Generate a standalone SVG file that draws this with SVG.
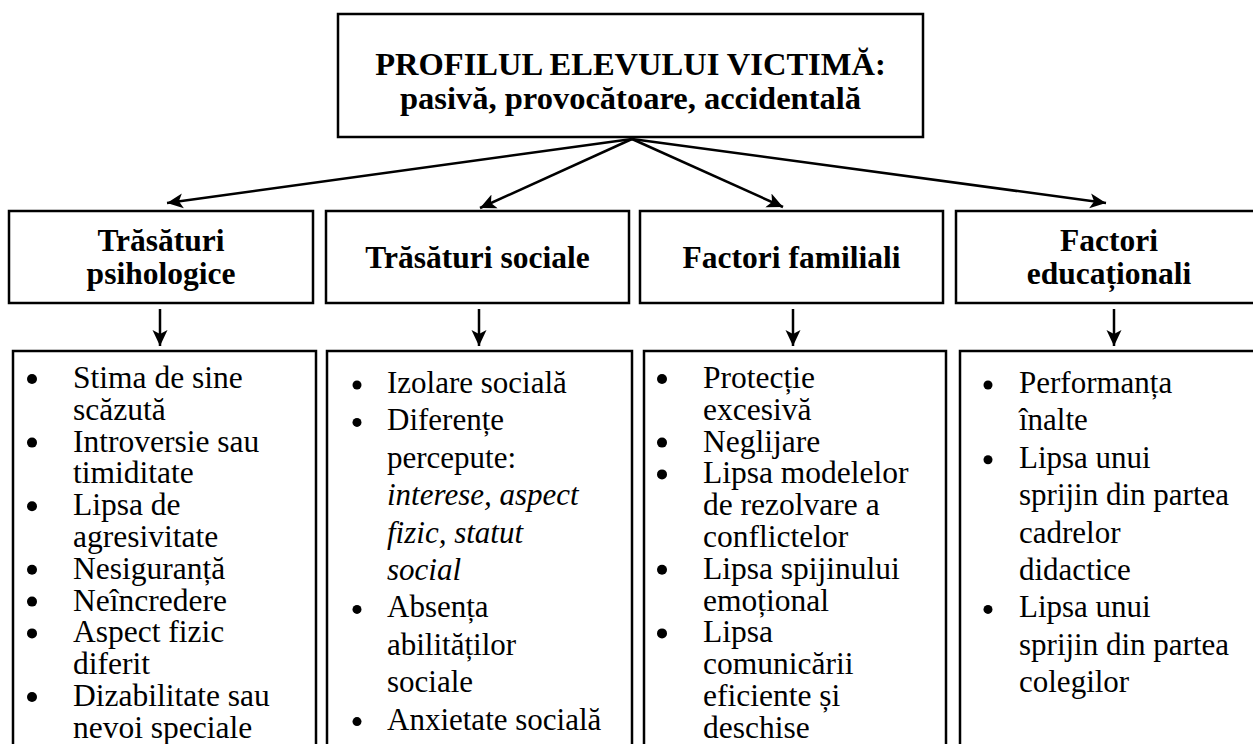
<svg xmlns="http://www.w3.org/2000/svg" width="1253" height="744" viewBox="0 0 1253 744">
<defs>
<style>
.box{fill:#fff;stroke:#000;stroke-width:2.5}
.title{font-family:"Liberation Serif","Times New Roman",serif;font-weight:bold;font-size:32.5px;fill:#000;text-anchor:middle}
.hd{font-family:"Liberation Serif","Times New Roman",serif;font-weight:bold;font-size:31.5px;fill:#000;text-anchor:middle}
.t1{font-family:"Liberation Serif","Times New Roman",serif;font-size:31.5px;fill:#000}
.t2{font-family:"Liberation Serif","Times New Roman",serif;font-size:31px;fill:#000}
.it{font-style:italic}
.conn{stroke:#000;stroke-width:2.5;fill:none}
.bul{fill:#000}
</style>
<marker id="ah" markerUnits="userSpaceOnUse" markerWidth="18" markerHeight="16" refX="16" refY="8" orient="auto">
<path d="M0,0.5 L16,8 L0,15.5 L4,8 z" fill="#000"/>
</marker>
</defs>

<g id="top">
<rect class="box" x="338" y="14" width="585" height="123"/>
<text class="title" x="630.5" y="75">PROFILUL ELEVULUI VICTIMĂ:</text>
<text class="title" x="630.5" y="109">pasivă, provocătoare, accidentală</text>
</g>

<g id="h-psihologice">
<rect class="box" x="9" y="211" width="304" height="92"/>
<text class="hd" x="161" y="251">Trăsături</text>
<text class="hd" x="161" y="284">psihologice</text>
</g>
<g id="h-sociale">
<rect class="box" x="326" y="211" width="303" height="92"/>
<text class="hd" x="477.5" y="268">Trăsături sociale</text>
</g>
<g id="h-familiali">
<rect class="box" x="640" y="211" width="303" height="92"/>
<text class="hd" x="791.5" y="268">Factori familiali</text>
</g>
<g id="h-educationali">
<rect class="box" x="956" y="211" width="310" height="92"/>
<text class="hd" x="1109" y="251">Factori</text>
<text class="hd" x="1109" y="284">educaționali</text>
</g>

<g id="list-psihologice">
<rect class="box" x="13" y="351" width="303" height="420"/>
<circle class="bul" cx="32" cy="379" r="5"/>
<circle class="bul" cx="32" cy="442.6" r="5"/>
<circle class="bul" cx="32" cy="506.2" r="5"/>
<circle class="bul" cx="32" cy="569.8" r="5"/>
<circle class="bul" cx="32" cy="601.6" r="5"/>
<circle class="bul" cx="32" cy="633.4" r="5"/>
<circle class="bul" cx="32" cy="697" r="5"/>
<text class="t1" x="73" y="388">Stima de sine</text>
<text class="t1" x="73" y="419.8">scăzută</text>
<text class="t1" x="73" y="451.6">Introversie sau</text>
<text class="t1" x="73" y="483.4">timiditate</text>
<text class="t1" x="73" y="515.2">Lipsa de</text>
<text class="t1" x="73" y="547">agresivitate</text>
<text class="t1" x="73" y="578.8">Nesiguranță</text>
<text class="t1" x="73" y="610.6">Neîncredere</text>
<text class="t1" x="73" y="642.4">Aspect fizic</text>
<text class="t1" x="73" y="674.2">diferit</text>
<text class="t1" x="73" y="706">Dizabilitate sau</text>
<text class="t1" x="73" y="737.8">nevoi speciale</text>
</g>

<g id="list-sociale">
<rect class="box" x="327" y="351" width="305" height="420"/>
<circle class="bul" cx="357" cy="385" r="4.5"/>
<circle class="bul" cx="357" cy="422.4" r="4.5"/>
<circle class="bul" cx="357" cy="609.4" r="4.5"/>
<circle class="bul" cx="357" cy="721.6" r="4.5"/>
<text class="t2" x="387" y="393">Izolare socială</text>
<text class="t2" x="387" y="430.4">Diferențe</text>
<text class="t2" x="387" y="467.8">percepute:</text>
<text class="t2 it" x="387" y="505.2">interese, aspect</text>
<text class="t2 it" x="387" y="542.6">fizic, statut</text>
<text class="t2 it" x="387" y="580">social</text>
<text class="t2" x="387" y="617.4">Absența</text>
<text class="t2" x="387" y="654.8">abilităților</text>
<text class="t2" x="387" y="692.2">sociale</text>
<text class="t2" x="387" y="729.6">Anxietate socială</text>
</g>

<g id="list-familiali">
<rect class="box" x="644" y="351" width="302" height="420"/>
<circle class="bul" cx="662" cy="379" r="5"/>
<circle class="bul" cx="662" cy="442.6" r="5"/>
<circle class="bul" cx="662" cy="474.4" r="5"/>
<circle class="bul" cx="662" cy="569.8" r="5"/>
<circle class="bul" cx="662" cy="633.4" r="5"/>
<text class="t1" x="703" y="388">Protecție</text>
<text class="t1" x="703" y="419.8">excesivă</text>
<text class="t1" x="703" y="451.6">Neglijare</text>
<text class="t1" x="703" y="483.4">Lipsa modelelor</text>
<text class="t1" x="703" y="515.2">de rezolvare a</text>
<text class="t1" x="703" y="547">conflictelor</text>
<text class="t1" x="703" y="578.8">Lipsa spijinului</text>
<text class="t1" x="703" y="610.6">emoțional</text>
<text class="t1" x="703" y="642.4">Lipsa</text>
<text class="t1" x="703" y="674.2">comunicării</text>
<text class="t1" x="703" y="706">eficiente și</text>
<text class="t1" x="703" y="737.8">deschise</text>
</g>

<g id="list-educationali">
<rect class="box" x="960" y="351" width="310" height="420"/>
<circle class="bul" cx="988" cy="385" r="4.5"/>
<circle class="bul" cx="988" cy="459.8" r="4.5"/>
<circle class="bul" cx="988" cy="609.4" r="4.5"/>
<text class="t2" x="1019" y="393">Performanța</text>
<text class="t2" x="1019" y="430.4">înalte</text>
<text class="t2" x="1019" y="467.8">Lipsa unui</text>
<text class="t2" x="1019" y="505.2">sprijin din partea</text>
<text class="t2" x="1019" y="542.6">cadrelor</text>
<text class="t2" x="1019" y="580">didactice</text>
<text class="t2" x="1019" y="617.4">Lipsa unui</text>
<text class="t2" x="1019" y="654.8">sprijin din partea</text>
<text class="t2" x="1019" y="692.2">colegilor</text>
</g>

<g id="connectors">
<line class="conn" x1="632" y1="139" x2="167" y2="203" marker-end="url(#ah)"/>
<line class="conn" x1="632" y1="139" x2="480" y2="208" marker-end="url(#ah)"/>
<line class="conn" x1="632" y1="139" x2="783" y2="207" marker-end="url(#ah)"/>
<line class="conn" x1="632" y1="139" x2="1106" y2="203" marker-end="url(#ah)"/>
<line class="conn" x1="160" y1="309" x2="160" y2="346" marker-end="url(#ah)"/>
<line class="conn" x1="479" y1="309" x2="479" y2="346" marker-end="url(#ah)"/>
<line class="conn" x1="793" y1="309" x2="793" y2="346" marker-end="url(#ah)"/>
<line class="conn" x1="1114" y1="309" x2="1114" y2="346" marker-end="url(#ah)"/>
</g>
</svg>
